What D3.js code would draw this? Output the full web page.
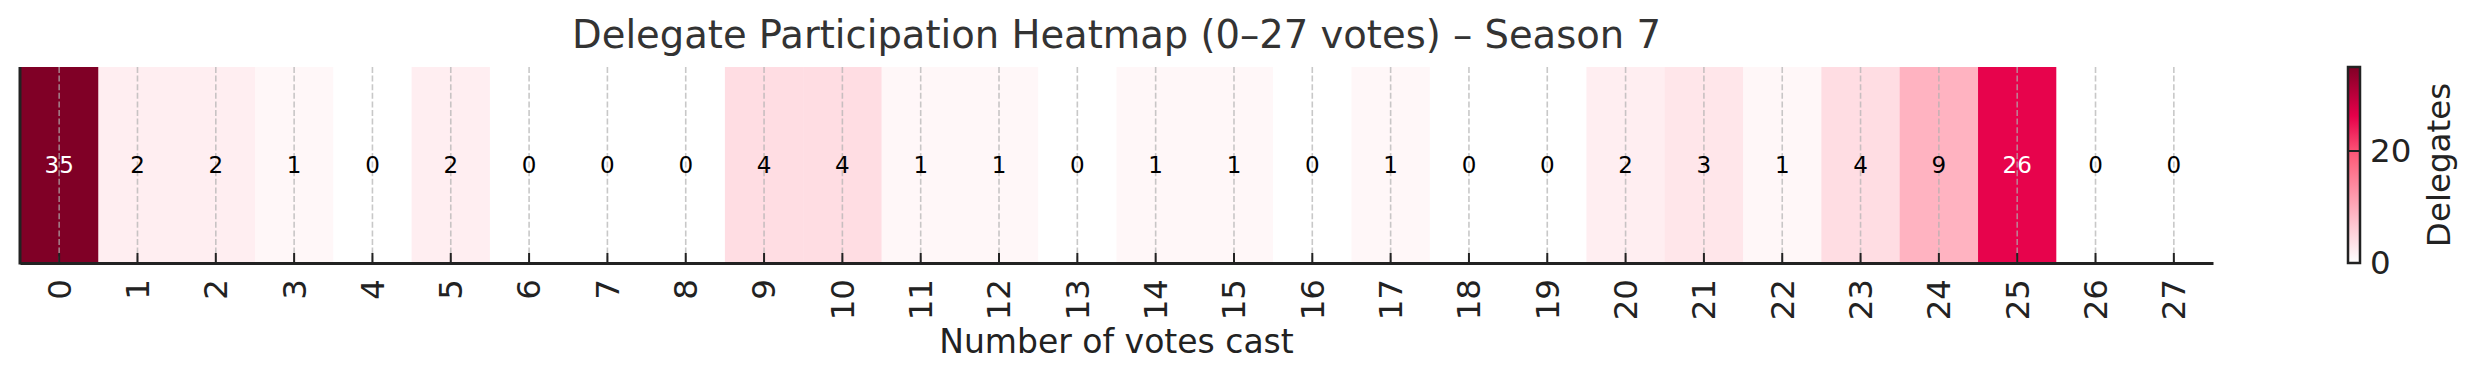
<!DOCTYPE html>
<html>
<head>
<meta charset="utf-8">
<script src="https://cdn.jsdelivr.net/npm/d3@7"></script>
<style>
  body { margin: 0; background: #fff; }
  svg { display: block; font-family: "DejaVu Sans", sans-serif; }
</style>
</head>
<body>
<div id="chart"></div>
<script>
// votes cast 0..27 and how many delegates cast that many
const voteCounts = d3.range(0, 28);
const delegates = [35, 2, 2, 1, 0, 2, 0, 0, 0, 4, 4, 1, 1, 0, 1, 1, 0, 1, 0, 0, 2, 3, 1, 4, 9, 26, 0, 0];
const colorbarTicks = [0, 20];
const colorStops = [0, 19.25, 26.25, 35];
const colorRange = ["#ffffff", "#ff5c7a", "#e6004a", "#800026"];

const width = 2475, height = 380;
const plotLeft = 20, plotRight = 2213, plotTop = 67, plotBottom = 263;

const svg = d3.select("#chart").append("svg")
    .attr("width", width)
    .attr("height", height);

const x = d3.scaleBand().domain(voteCounts).range([plotLeft, plotRight]).padding(0);
const color = d3.scaleLinear().domain(colorStops).range(colorRange).clamp(true);
const maxVal = d3.max(delegates);

// heatmap cells
svg.append("g").selectAll("rect")
    .data(voteCounts)
    .join("rect")
    .attr("x", d => x(d))
    .attr("y", plotTop)
    .attr("width", x.bandwidth() + 0.5)
    .attr("height", plotBottom - plotTop)
    .attr("fill", d => color(delegates[d]));

// dashed grid lines through each column
svg.append("g").selectAll("line")
    .data(voteCounts)
    .join("line")
    .attr("x1", d => x(d) + x.bandwidth() / 2)
    .attr("x2", d => x(d) + x.bandwidth() / 2)
    .attr("y1", plotTop)
    .attr("y2", plotBottom)
    .attr("stroke", "#b0b0b0")
    .attr("stroke-opacity", 0.7)
    .attr("stroke-width", 1.6)
    .attr("stroke-dasharray", "6,2.6");

// cell annotations
svg.append("g").selectAll("text")
    .data(voteCounts)
    .join("text")
    .attr("x", d => x(d) + x.bandwidth() / 2)
    .attr("y", (plotTop + plotBottom) / 2)
    .attr("text-anchor", "middle")
    .attr("dominant-baseline", "central")
    .style("font-size", "23px")
    .attr("fill", d => delegates[d] > maxVal / 2 ? "#ffffff" : "#000000")
    .text(d => delegates[d]);

// x axis
const xAxis = svg.append("g")
    .attr("transform", `translate(0,${plotBottom})`)
    .call(d3.axisBottom(x).tickSizeInner(-10).tickSizeOuter(0).tickPadding(16));
xAxis.select(".domain").attr("stroke", "#222").attr("stroke-width", 3);
xAxis.selectAll(".tick line").attr("stroke", "#222").attr("stroke-width", 2);
xAxis.selectAll(".tick text")
    .style("font-size", "32.5px")
    .style("font-family", "DejaVu Sans")
    .attr("fill", "#222")
    .attr("transform", "rotate(-90)")
    .attr("x", -16)
    .attr("y", 0)
    .attr("dy", "0.35em")
    .attr("text-anchor", "end");

// left spine
svg.append("line")
    .attr("x1", plotLeft).attr("x2", plotLeft)
    .attr("y1", plotTop).attr("y2", plotBottom + 1.5)
    .attr("stroke", "#222")
    .attr("stroke-width", 3);

svg.append("text")
    .attr("x", (plotLeft + plotRight) / 2)
    .attr("y", 353)
    .attr("text-anchor", "middle")
    .style("font-size", "33px")
    .attr("fill", "#222")
    .text("Number of votes cast");

svg.append("text")
    .attr("x", (plotLeft + plotRight) / 2)
    .attr("y", 48)
    .attr("text-anchor", "middle")
    .style("font-size", "38.5px")
    .attr("fill", "#333")
    .text("Delegate Participation Heatmap (0\u201327 votes) \u2013 Season 7");

// colorbar
const cbX = 2348, cbW = 12;
const cbY = d3.scaleLinear().domain([0, maxVal]).range([plotBottom, plotTop]);

const grad = svg.append("defs").append("linearGradient")
    .attr("id", "cbgrad")
    .attr("x1", 0).attr("x2", 0).attr("y1", 1).attr("y2", 0);
grad.selectAll("stop")
    .data(d3.range(0, 1.0001, 0.05))
    .join("stop")
    .attr("offset", d => d)
    .attr("stop-color", d => color(d * maxVal));

svg.append("rect")
    .attr("x", cbX).attr("y", plotTop)
    .attr("width", cbW).attr("height", plotBottom - plotTop)
    .attr("fill", "url(#cbgrad)");

svg.append("g").selectAll("line")
    .data(colorbarTicks)
    .join("line")
    .attr("x1", cbX).attr("x2", cbX + cbW)
    .attr("y1", d => cbY(d)).attr("y2", d => cbY(d))
    .attr("stroke", "#222")
    .attr("stroke-width", 2);

svg.append("rect")
    .attr("x", cbX).attr("y", plotTop)
    .attr("width", cbW).attr("height", plotBottom - plotTop)
    .attr("fill", "none")
    .attr("stroke", "#222")
    .attr("stroke-width", 2.5);

svg.append("g").selectAll("text")
    .data(colorbarTicks)
    .join("text")
    .attr("x", cbX + cbW + 10)
    .attr("y", d => cbY(d))
    .attr("dy", "0.35em")
    .style("font-size", "32.5px")
    .attr("fill", "#222")
    .text(d => d);

svg.append("text")
    .attr("transform", `translate(2450,${(plotTop + plotBottom) / 2}) rotate(-90)`)
    .attr("text-anchor", "middle")
    .style("font-size", "32.5px")
    .attr("fill", "#222")
    .text("Delegates");
</script>
</body>
</html>
